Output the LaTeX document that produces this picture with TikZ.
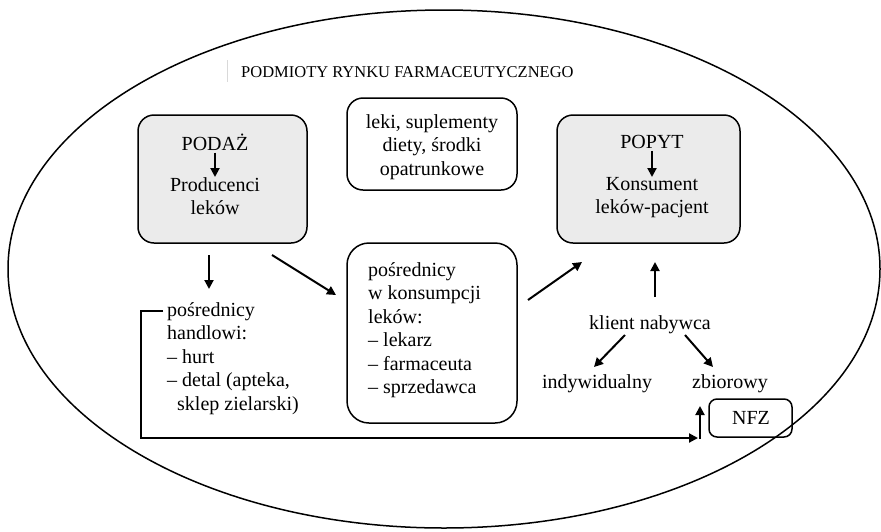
\documentclass[tikz,border=0pt]{standalone}
\usepackage{fontspec}
\setmainfont{Liberation Serif}
\usetikzlibrary{arrows.meta}
\begin{document}
\begin{tikzpicture}[x=1pt,y=-1pt,
  txt/.style={inner sep=0pt, font=\fontsize{20}{23.5}\selectfont},
  box/.style={draw, line width=1.5pt, rounded corners=16pt, inner sep=0pt},
  gbox/.style={box, fill=black!8},
  arr/.style={line width=2pt, -{Triangle[length=9pt,width=9pt]}},
  line/.style={line width=2pt}]
\useasboundingbox (0,0) rectangle (881,531);
% big ellipse
\draw[line width=1.5pt] (444,269) ellipse [x radius=436, y radius=259];
% title with faint separator
\draw[black!15, line width=0.8pt] (227,60) -- (227,82);
\node[txt, font=\fontsize{16.5}{20}\selectfont, anchor=west] (title) at (241,72) {PODMIOTY RYNKU FARMACEUTYCZNEGO};
% boxes
\node[gbox, minimum width=169pt, minimum height=128pt] (podaz) at (222.5,179) {};
\node[box, minimum width=170pt, minimum height=92pt] (leki) at (432,144) {};
\node[gbox, minimum width=183pt, minimum height=128pt] (popyt) at (648.5,179) {};
\node[box, rounded corners=22pt, minimum width=170pt, minimum height=180pt] (posr) at (432,333) {};
\node[box, rounded corners=8pt, minimum width=83pt, minimum height=38pt] (nfz) at (750.5,418) {};
% texts in boxes
\node[txt] (podazt) at (215,142) {PODAŻ};
\node[txt, align=center, anchor=north] (prod) at (215,177) {Producenci\\leków};
\draw[arr] (podazt.south) ++(0,2) -- (prod.north);
\node[txt, align=center] (lekit) at (432,147) {leki, suplementy\\diety, środki\\opatrunkowe};
\node[txt] (popytt) at (652,142) {POPYT};
\node[txt, align=center, anchor=north] (kons) at (652,177) {Konsument\\leków-pacjent};
\draw[arr] (popytt.south) ++(0,2) -- (kons.north);
\node[txt, align=left, anchor=north west] (posrt) at (368,262) {pośrednicy\\w konsumpcji\\leków:\\– lekarz\\– farmaceuta\\– sprzedawca};
\node[txt] (nfzt) at (751,418) {NFZ};
% free texts
\node[txt, align=left, anchor=north west] (handl) at (167,302) {pośrednicy\\handlowi:\\– hurt\\– detal (apteka,\\\hspace*{0.5em}sklep zielarski)};
\node[txt] (klient) at (650,325) {klient nabywca};
\node[txt] (indyw) at (597,384) {indywidualny};
\node[txt] (zbior) at (730,384) {zbiorowy};
% arrows
\coordinate (a1s) at (209,255); \coordinate (a1e) at (209,289);
\draw[arr] (a1s) -- (a1e);
\coordinate (a2s) at (272,255); \coordinate (a2e) at (336,295);
\draw[arr] (a2s) -- (a2e);
\coordinate (a3s) at (528,300); \coordinate (a3e) at (582,262);
\draw[arr] (a3s) -- (a3e);
\coordinate (a4s) at (655,297); \coordinate (a4e) at (655,262);
\draw[arr] (a4s) -- (a4e);
\coordinate (a5s) at (625,335); \coordinate (a5e) at (594,367);
\draw[arr] (a5s) -- (a5e);
\coordinate (a6s) at (685,335); \coordinate (a6e) at (713,367);
\draw[arr] (a6s) -- (a6e);
% bracket line to NFZ
\coordinate (b1) at (163,311);
\coordinate (b2) at (141,438);
\coordinate (b3) at (698,438);
\coordinate (b4) at (700,439);
\coordinate (b5) at (700,406);
\draw[line] (b1) -- (141,311) -- (b2) -- ++(1,0);
\draw[arr] (b2) -- (b3);
\draw[arr] (b4) -- (b5);
\end{tikzpicture}
\end{document}
